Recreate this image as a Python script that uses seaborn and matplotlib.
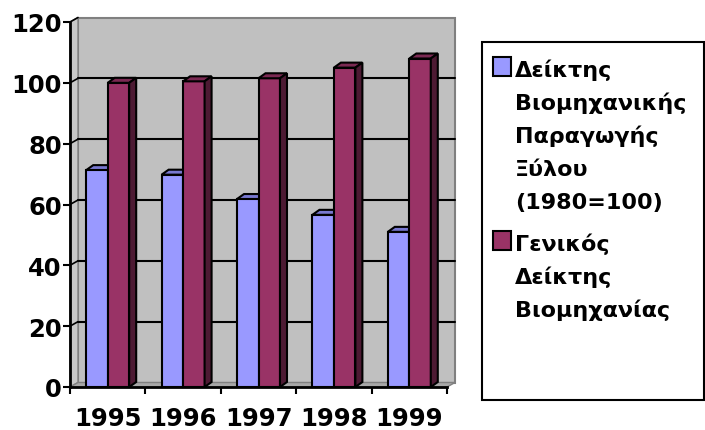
import numpy as np
import pandas as pd
import matplotlib
matplotlib.use("Agg")
import matplotlib.pyplot as plt
from matplotlib.patches import Polygon, Rectangle
import seaborn as sns

# ---- data ----
years = ["1995", "1996", "1997", "1998", "1999"]
wood_index = [71.3, 69.8, 61.8, 56.6, 51.0]
general_index = [100.0, 100.5, 101.5, 105.0, 108.0]
series_names = ["Δείκτης Βιομηχανικής Παραγωγής Ξύλου (1980=100)",
                "Γενικός Δείκτης Βιομηχανίας"]
legend_lines = [["Δείκτης", "Βιομηχανικής", "Παραγωγής", "Ξύλου", "(1980=100)"],
                ["Γενικός", "Δείκτης", "Βιομηχανίας"]]
yticks = [0, 20, 40, 60, 80, 100, 120]

front_colors = ["#9999FF", "#993366"]
top_colors = ["#7878D0", "#7A2952"]
side_colors = ["#5C5CA0", "#4D1A33"]

df = pd.DataFrame({
    "year": years * 2,
    "value": wood_index + general_index,
    "series": [series_names[0]] * len(years) + [series_names[1]] * len(years),
})

sns.set_theme(style="white")
plt.rcParams["font.family"] = ["DejaVu Sans"]

W, H = 705, 431
fig = plt.figure(figsize=(W / 100, H / 100), dpi=100)
ax = fig.add_axes([70 / W, 1 - 388 / H, 377 / W, 365 / H])
ax.patch.set_visible(False)

sns.barplot(data=df, x="year", y="value", hue="series", palette=front_colors,
            saturation=1, width=0.57, gap=0, edgecolor="black", linewidth=1.5,
            legend=False, ax=ax)

ax.set_xlim(-0.5, 4.5)
ax.set_ylim(0, 120)

# pixel -> data conversions for the 3D depth effect
px_x = 377 / 5.0
px_y = 365 / 120.0
wall_dx, wall_dy = 8 / px_x, 4.5 / px_y
bar_dx, bar_dy = 7 / px_x, 5 / px_y

x0, x1 = -0.5, 4.5
# back wall, left wall and floor
ax.add_patch(Polygon([(x0 + wall_dx, wall_dy), (x1 + wall_dx, wall_dy),
                      (x1 + wall_dx, 120 + wall_dy), (x0 + wall_dx, 120 + wall_dy)],
                     closed=True, facecolor="#C0C0C0", edgecolor="#808080",
                     lw=1.5, zorder=0, clip_on=False))
ax.add_patch(Polygon([(x0, 0), (x0, 120), (x0 + wall_dx, 120 + wall_dy),
                      (x0 + wall_dx, wall_dy)],
                     closed=True, facecolor="#C8C8C8", edgecolor="#808080",
                     lw=1.0, zorder=0.2, clip_on=False))
ax.add_patch(Polygon([(x0, 0), (x1, 0), (x1 + wall_dx, wall_dy), (x0 + wall_dx, wall_dy)],
                     closed=True, facecolor="#A8A8A8", edgecolor="#808080",
                     lw=1.0, zorder=0.2, clip_on=False))

# gridlines on the back wall and left wall
for v in yticks[1:-1]:
    ax.plot([x0 + wall_dx, x1 + wall_dx], [v + wall_dy, v + wall_dy],
            color="black", lw=1.5, zorder=0.5, clip_on=False)
for v in yticks[1:]:
    ax.plot([x0, x0 + wall_dx], [v, v + wall_dy],
            color="black", lw=1.2, zorder=0.5, clip_on=False)

# 3D top and side faces for each bar
bars = [p for p in ax.patches if isinstance(p, Rectangle) and p.get_height() > 0]
for i, p in enumerate(bars):
    s = 0 if i < len(years) else 1
    p.set_zorder(3)
    bx, bw, bh = p.get_x(), p.get_width(), p.get_height()
    z = 2.5 if s == 0 else 3.5
    ax.add_patch(Polygon([(bx, bh), (bx + bw, bh), (bx + bw + bar_dx, bh + bar_dy),
                          (bx + bar_dx, bh + bar_dy)], closed=True,
                         facecolor=top_colors[s], edgecolor="black", lw=1.5,
                         zorder=z, clip_on=False, joinstyle="miter"))
    ax.add_patch(Polygon([(bx + bw, 0), (bx + bw, bh), (bx + bw + bar_dx, bh + bar_dy),
                          (bx + bw + bar_dx, bar_dy)], closed=True,
                         facecolor=side_colors[s], edgecolor="black", lw=1.5,
                         zorder=z, clip_on=False, joinstyle="miter"))

# axes lines and ticks
for side in ["top", "right"]:
    ax.spines[side].set_visible(False)
for side in ["left", "bottom"]:
    ax.spines[side].set_color("black")
    ax.spines[side].set_linewidth(2)
    ax.spines[side].set_zorder(4)

ax.set_yticks(yticks)
ax.set_yticklabels([str(v) for v in yticks])
ax.set_xticks(range(len(years)))
ax.set_xticklabels(years)
ax.set_xticks(np.arange(-0.5, 5, 1.0), minor=True)
ax.tick_params(axis="y", which="major", direction="out", length=5, width=1.5,
               color="black", pad=1, labelsize=17.5, left=True)
ax.tick_params(axis="x", which="major", length=0, pad=14, labelsize=17.5)
ax.tick_params(axis="x", which="minor", direction="out", length=5, width=1.5,
               color="black", bottom=True)
for lab in ax.get_xticklabels() + ax.get_yticklabels():
    lab.set_fontweight("bold")
    lab.set_color("black")
ax.set_xlabel("")
ax.set_ylabel("")

# legend box drawn in figure pixels
def fx(px):
    return px / W

def fy(py):
    return 1 - py / H

fig.patches.append(Rectangle((fx(482), fy(401)), fx(704) - fx(482), (401 - 43) / H,
                             transform=fig.transFigure, facecolor="white",
                             edgecolor="black", lw=1.5, zorder=1))
line_step = 33.0
entry_gap = 9.0
cap_top = 61.0
for s, lines in enumerate(legend_lines):
    fig.patches.append(Rectangle((fx(493), fy(cap_top - 3 + 19)), 18 / W, 19 / H,
                                 transform=fig.transFigure, facecolor=front_colors[s],
                                 edgecolor="black", lw=1.5, zorder=2))
    for line in lines:
        fig.text(fx(515), fy(cap_top + 16), line, fontsize=16,
                 fontweight="bold", color="black", va="baseline", ha="left")
        cap_top += line_step
    cap_top += entry_gap

fig.savefig("out.png", dpi=100, facecolor="white")
